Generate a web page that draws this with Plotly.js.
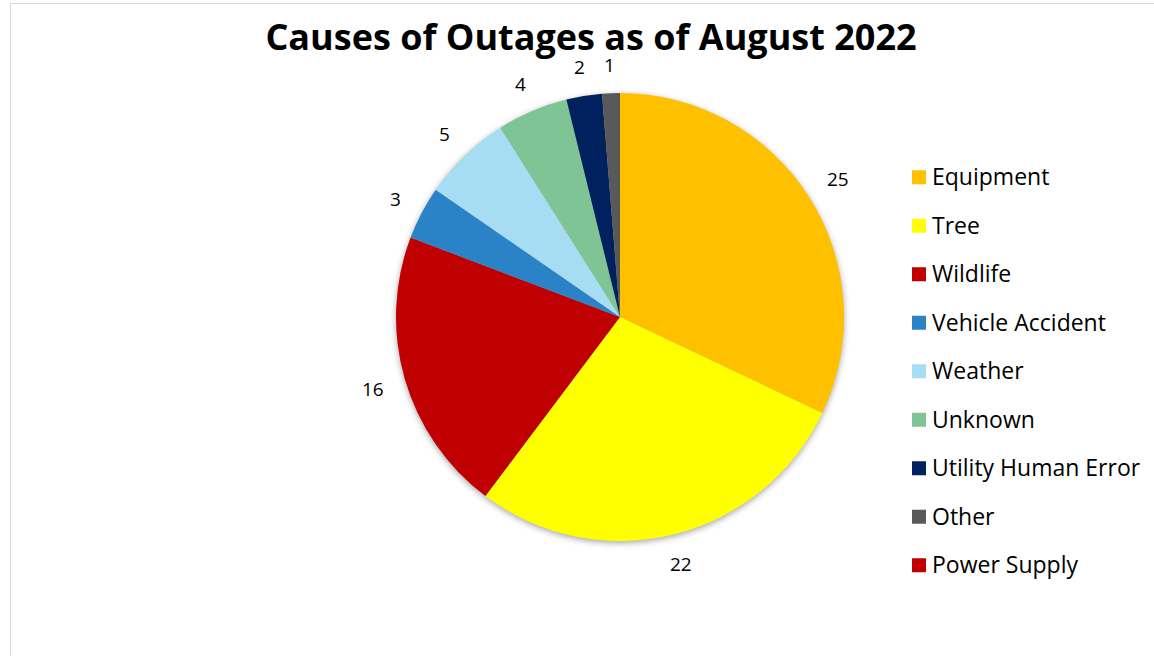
<!DOCTYPE html>
<html>
<head>
<meta charset="utf-8">
<script src="https://cdn.plot.ly/plotly-3.0.1.min.js"></script>
<style>
html, body { margin:0; padding:0; background:#fff; }
#wrap { position:relative; width:1154px; height:656px; overflow:hidden; }
#chart { width:1154px; height:656px; }
#frame { position:absolute; left:10px; top:3px; width:1200px; height:700px; border:1px solid #d9d9d9; pointer-events:none; box-sizing:border-box; }
.legendtext { font-size:23px !important; transform: translateY(-5.5px); }
.legendpie { transform: translate(27px, 0px) scale(1.167); }
.pielayer { filter: drop-shadow(0px 2px 3px rgba(0,0,0,0.35)); }
</style>
</head>
<body>
<div id="wrap">
<div id="chart"></div>
<div id="frame"></div>
</div>
<script>
const causes = ["Equipment", "Tree", "Wildlife", "Vehicle Accident", "Weather", "Unknown", "Utility Human Error", "Other", "Power Supply"];
const outages = [25, 22, 16, 3, 5, 4, 2, 1, 0];
const sliceColors = ["#FFC000", "#FFFF00", "#C00000", "#2A83C6", "#A7DDF3", "#7FC494", "#00205E", "#595959", "#C00000"];
const chartTitle = "Causes of Outages as of August 2022";

const W = 1154, H = 656;
const cx = 620, cy = 317, r = 224;
const labelGap = 21;
const digitW = 11, digitH = 14;
const FONT = "'Open Sans', 'Noto Sans', sans-serif";

const total = outages.reduce((a, b) => a + b, 0);
const annotations = [];
let cum = 0;
outages.forEach((v) => {
  if (v > 0) {
    const ang = (cum + v / 2) / total * 2 * Math.PI;
    const s = Math.sin(ang), c = Math.cos(ang);
    const halfW = String(v).length * digitW / 2;
    const ext = Math.abs(s) * halfW + Math.abs(c) * digitH / 2;
    const dist = r + labelGap + ext;
    const px = cx + dist * s;
    const py = cy - dist * c;
    annotations.push({
      text: String(v), showarrow: false,
      xref: "paper", yref: "paper",
      x: px / W, y: 1 - py / H, xanchor: "center", yanchor: "middle",
      font: { family: FONT, size: 19, color: "#000" }
    });
  }
  cum += v;
});

const trace = {
  type: "pie",
  labels: causes,
  values: outages,
  textinfo: "none",
  sort: false,
  direction: "clockwise",
  rotation: 0,
  marker: { colors: sliceColors, line: { width: 0 } },
  domain: { x: [(cx - r) / W, (cx + r) / W], y: [1 - (cy + r) / H, 1 - (cy - r) / H] },
  hoverinfo: "label+value"
};

const layout = {
  width: W, height: H,
  margin: { l: 0, r: 0, t: 0, b: 0 },
  paper_bgcolor: "#fff",
  showlegend: true,
  annotations: annotations,
  title: {
    text: "<b>" + chartTitle + "</b>",
    font: { family: FONT, size: 36, color: "#000" },
    x: 591 / W, xanchor: "center",
    y: 1 - 37 / H, yanchor: "middle",
    xref: "paper", yref: "container"
  },
  legend: {
    x: 892 / W, xanchor: "left",
    y: 1 - 148 / H, yanchor: "top",
    font: { family: FONT, size: 35, color: "#000" },
    bgcolor: "rgba(0,0,0,0)",
    traceorder: "normal"
  }
};

Plotly.newPlot("chart", [trace], layout, { displayModeBar: false, staticPlot: true });
</script>
</body>
</html>
